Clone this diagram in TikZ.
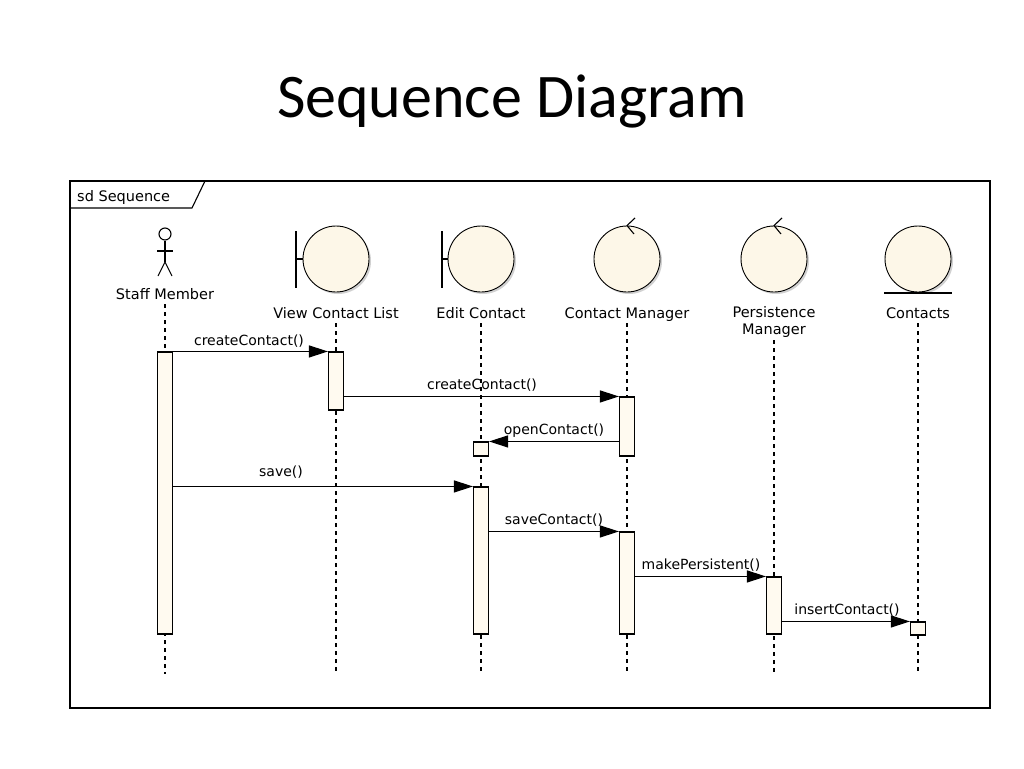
\documentclass[tikz,border=0pt]{standalone}
\usepackage{fontspec}
\setmainfont{DejaVu Sans}
\newfontfamily\titlefont{Carlito}
\usetikzlibrary{arrows.meta}
\definecolor{cream}{RGB}{253,247,232}
\definecolor{actfill}{RGB}{255,250,240}
\begin{document}
\begin{tikzpicture}[x=1pt,y=-1pt,
  lbl/.style={font=\fontsize{14.5}{15}\selectfont, inner sep=0pt, align=center},
  msglbl/.style={font=\fontsize{14}{15}\selectfont, inner sep=0pt},
  life/.style={dash pattern=on 4pt off 4pt, line width=1.1pt},
  actbox/.style={draw, fill=actfill, line width=1.1pt, minimum width=15pt, inner sep=0pt},
  msg/.style={line width=1.1pt, -{Triangle[length=19pt,width=12pt]}},
  ent/.style={draw, fill=cream, circle, minimum size=66pt, inner sep=0pt, line width=0.9pt},
  shadowc/.style={fill=black!18, circle, minimum size=66pt, inner sep=0pt},
  thick1/.style={line width=1.1pt}
]
\useasboundingbox (0,0) rectangle (1024,768);
\fill[white] (0,0) rectangle (1024,768);

% title
\node[font=\titlefont\fontsize{62}{70}\selectfont, anchor=base, inner sep=0pt] (title) at (512,117) {Sequence Diagram};

% frame
\draw[line width=1.2pt] (70,181) rectangle (990,708);
\draw[line width=1.1pt] (70,208) -- (192,208) -- (205,181);
\node[lbl, anchor=base west] (sd) at (77,201) {sd Sequence};

% actor
\node[draw, circle, minimum size=12pt, inner sep=0pt, thick1] (head) at (165,234) {};
\coordinate (hip) at (165,262);
\draw[thick1] (head.south) -- (hip);
\draw[thick1] (157,251) -- (173,251);
\draw[thick1] (158,276) -- (hip) -- (172,276);
\node[lbl, anchor=base] (smL) at (165,299) {Staff Member};

% boundary: View Contact List
\node[shadowc] at (338,261) {};
\node[ent] (vc) at (336,259) {};
\draw[thick1] (296,231) -- (296,288);
\draw[thick1] (296,259) -- (vc.west);
\node[lbl, anchor=base] (vcL) at (336,318) {View Contact List};

% boundary: Edit Contact
\node[shadowc] at (483,261) {};
\node[ent] (ec) at (481,259) {};
\draw[thick1] (442,231) -- (442,288);
\draw[thick1] (442,259) -- (ec.west);
\node[lbl, anchor=base] (ecL) at (481,318) {Edit Contact};

% control: Contact Manager
\node[shadowc] at (629,261) {};
\node[ent] (cm) at (627,259) {};
\draw[thick1] (635,218) -- (cm.north) -- (634,234);
\node[lbl, anchor=base] (cmL) at (627,318) {Contact Manager};

% control: Persistence Manager
\node[shadowc] at (776,261) {};
\node[ent] (pm) at (774,259) {};
\draw[thick1] (782,218) -- (pm.north) -- (781,234);
\node[lbl] (pmL) at (774,322) {Persistence\\[2pt]Manager};

% entity: Contacts
\node[shadowc] at (920,261) {};
\node[ent] (ct) at (918,259) {};
\draw[thick1] (884,293) -- (952,293);
\node[lbl, anchor=base] (ctL) at (918,318) {Contacts};

% lifelines
\coordinate (smE) at (165,674);
\coordinate (vcE) at (336,674);
\coordinate (ecE) at (481,674);
\coordinate (cmE) at (627,674);
\coordinate (pmE) at (774,674);
\coordinate (ctE) at (918,674);
\draw[life] (165,304) -- (smE);
\draw[life] (336,323) -- (vcE);
\draw[life] (481,323) -- (ecE);
\draw[life] (627,323) -- (cmE);
\draw[life] (774,340) -- (pmE);
\draw[life] (918,323) -- (ctE);

% activations
\node[actbox, minimum height=282pt] (a1) at (165,493) {};
\node[actbox, minimum height=58pt] (v1) at (336,381) {};
\node[actbox, minimum height=59pt] (c1) at (627,426.5) {};
\node[actbox, minimum height=14pt] (e1) at (481,449) {};
\node[actbox, minimum height=147pt] (e2) at (481,560.5) {};
\node[actbox, minimum height=102pt] (c2) at (627,583) {};
\node[actbox, minimum height=57pt] (p1) at (774,605.5) {};
\node[actbox, minimum height=13pt] (k1) at (918,628.5) {};

% messages
\draw[msg] (a1.north east) -- (v1.north west);
\node[msglbl] (m1) at (249,341) {createContact()};
\draw[msg] (v1.east |- c1.north) -- (c1.north west);
\node[msglbl] (m2) at (482,385) {createContact()};
\draw[msg] (c1.west |- e1.north) -- (e1.north east);
\node[msglbl] (m3) at (554,431) {openContact()};
\draw[msg] (a1.east |- e2.north) -- (e2.north west);
\node[msglbl] (m4) at (281,472) {save()};
\draw[msg] (e2.east |- c2.north) -- (c2.north west);
\node[msglbl] (m5) at (554,520) {saveContact()};
\draw[msg] (c2.east |- p1.north) -- (p1.north west);
\node[msglbl] (m6) at (701,565) {makePersistent()};
\draw[msg] (p1.east |- k1.north) -- (k1.north west);
\node[msglbl] (m7) at (847,610) {insertContact()};
\end{tikzpicture}
\end{document}
